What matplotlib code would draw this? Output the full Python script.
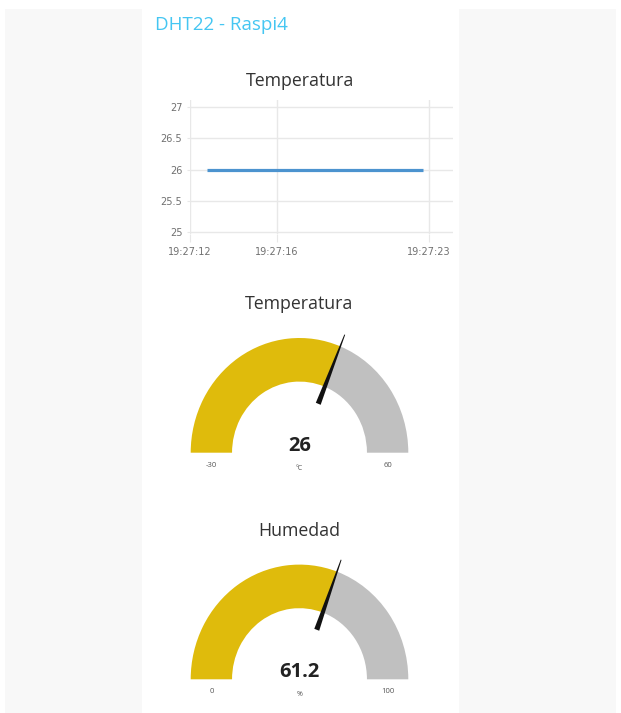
import numpy as np
import matplotlib.pyplot as plt
from matplotlib.patches import Rectangle, Wedge, Polygon

# data
times = [12.8, 22.7]            # seconds after 19:27:00
temps = [26.0, 26.0]
xticks = [12, 16, 23]
yticks = [25, 25.5, 26, 26.5, 27]

gauges = [
    # title, value, min, max, unit
    ("Temperatura", 26, -30, 60, "°C"),
    ("Humedad", 61.2, 0, 100, "%"),
]

W, H = 621, 713
GOLD = '#dfbb0c'
GREY = '#c0c0c0'
TXT = '#333333'
FONT = 'Open Sans'


def fx(x):
    return x / W


def fy(y):
    return 1 - y / H


fig = plt.figure(figsize=(W / 100, H / 100), dpi=100)
fig.patch.set_facecolor('white')
# page background (grey sides, white card in the middle)
fig.patches.append(Rectangle((fx(5), 0), fx(137), fy(9), transform=fig.transFigure,
                             facecolor='#f8f8f8', edgecolor='none', zorder=0))
fig.patches.append(Rectangle((fx(459), 0), fx(157), fy(9), transform=fig.transFigure,
                             facecolor='#f8f8f8', edgecolor='none', zorder=0))

fig.text(fx(155), fy(30), "DHT22 - Raspi4", color='#45c6f2', fontsize=13.5,
         family=FONT, ha='left', va='baseline')

# ---- line chart
x0, x1 = 190, 453
y_top, y27, y25 = 100, 107, 232
ppu = (y25 - y27) / 2.0
ax = fig.add_axes([fx(x0), fy(y25 + 2), fx(x1 - x0), (y25 + 2 - y_top) / H])
ax.plot(times, temps, color='#4c93cf', lw=2.3, solid_capstyle='butt')
ax.set_xlim(12, 12 + (x1 - x0) / 21.73)
ax.set_ylim(25 - 2 / ppu, 27 + (y27 - y_top) / ppu)
ax.set_xticks(xticks)
ax.set_xticklabels([f"19:27:{s:02d}" for s in xticks])
ax.set_yticks(yticks)
ax.set_yticklabels([f"{v:g}" for v in yticks])
ax.grid(True, color='#e8e8e8', lw=1)
for s in ax.spines.values():
    s.set_visible(False)
ax.tick_params(axis='x', length=6, color='#e8e8e8', pad=3, labelsize=7, labelcolor='#707070')
ax.tick_params(axis='y', length=2.5, color='#e8e8e8', pad=3, labelsize=7, labelcolor='#707070')
ax.set_facecolor('none')
fig.text(fx(300), fy(86), "Temperatura", color=TXT, fontsize=12.8, family=FONT,
         ha='center', va='baseline')

# ---- gauges
rx, ry = 108.8, 114.7
inner = 0.62
centers = [(299.5, 452.7), (299.5, 679.3)]
for (title, val, vmin, vmax, unit), (cx, cy) in zip(gauges, centers):
    gx = fig.add_axes([fx(cx - 1.2 * rx), fy(cy + 0.3 * ry), 2.4 * rx / W, 1.5 * ry / H])
    gx.set_xlim(-1.2, 1.2)
    gx.set_ylim(-0.3, 1.2)
    gx.axis('off')
    frac = (val - vmin) / (vmax - vmin)
    ang = 180 - 180 * frac
    gx.add_patch(Wedge((0, 0), 1, ang, 180, width=1 - inner, facecolor=GOLD, edgecolor='none'))
    gx.add_patch(Wedge((0, 0), 1, 0, ang, width=1 - inner, facecolor=GREY, edgecolor='none'))
    a = np.radians(ang)
    d = np.array([np.cos(a), np.sin(a)])
    n = np.array([-np.sin(a), np.cos(a)])
    r0, r1 = 0.46, 1.11
    base = d * r0
    tip = d * r1
    pts = [base + n * 0.024, tip + n * 0.004, tip - n * 0.004, base - n * 0.024]
    gx.add_patch(Polygon(pts, closed=True, facecolor='#111111', edgecolor='none'))

    fig.text(fx(cx), fy(cy - 143.5), title, color=TXT, fontsize=12.8, family=FONT,
             ha='center', va='baseline')
    fig.text(fx(cx), fy(cy - 2), f"{val:g}", color='#222222', fontsize=14.5,
             family=FONT, weight='bold', ha='center', va='baseline')
    fig.text(fx(cx), fy(cy + 17), unit, color='#555555', fontsize=5, family=FONT,
             ha='center', va='baseline')
    mid = (1 + inner) / 2
    fig.text(fx(cx - mid * rx), fy(cy + 14), f"{vmin:g}", color='#555555', fontsize=5.5,
             family=FONT, ha='center', va='baseline')
    fig.text(fx(cx + mid * rx), fy(cy + 14), f"{vmax:g}", color='#555555', fontsize=5.5,
             family=FONT, ha='center', va='baseline')

fig.savefig('out.png', dpi=100)
